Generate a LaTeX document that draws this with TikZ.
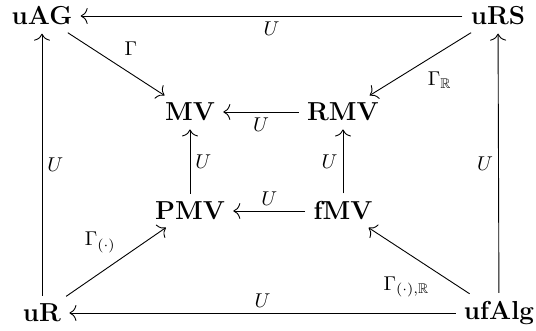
\documentclass[tikz,border=0pt]{standalone}
\usepackage{amssymb}
\usetikzlibrary{arrows.meta}
\begin{document}
\begin{tikzpicture}[x=1pt,y=1pt,font=\fontsize{13}{15}\selectfont\bfseries,
    obj/.style={inner sep=3pt},
    fun/.style={-{To[length=3.5pt,width=8pt]},line width=0.45pt,shorten >=1pt,shorten <=1pt},
    lbl/.style={font=\normalsize,inner sep=2.5pt}]
  \useasboundingbox (0,0) rectangle (268,165.5);
  \node[obj] (uAG) at (21,157.5) {uAG};
  \node[obj] (uRS) at (249,157.5) {uRS};
  \node[obj] (MV) at (95,109.5) {MV};
  \node[obj] (RMV) at (171.5,109.5) {RMV};
  \node[obj] (PMV) at (95,60) {PMV};
  \node[obj] (fMV) at (171.5,60) {fMV};
  \node[obj] (uR) at (21,9) {uR};
  \node[obj] (ufAlg) at (249.5,9) {ufAlg};
  \draw[fun] (uRS) -- node[lbl,auto]{$U$} (uAG);
  \draw[fun] (uAG) -- node[lbl,auto,pos=0.5,inner sep=4pt]{$\Gamma$} (MV);
  \draw[fun] (uRS) -- node[lbl,auto,pos=0.5,inner sep=3.5pt]{$\Gamma_{\mathbb{R}}$} (RMV);
  \draw[fun] (RMV) -- node[lbl,auto]{$U$} (MV);
  \draw[fun] (uR) -- node[lbl,auto,swap]{$U$} (uAG);
  \draw[fun] (PMV) -- node[lbl,auto,swap]{$U$} (MV);
  \draw[fun] (fMV) -- node[lbl,auto]{$U$} (RMV);
  \draw[fun] (ufAlg) -- node[lbl,auto]{$U$} (uRS);
  \draw[fun] (fMV) -- node[lbl,auto,swap]{$U$} (PMV);
  \draw[fun] (uR) -- node[lbl,auto,pos=0.55]{$\Gamma_{(\cdot)}$} (PMV);
  \draw[fun] (ufAlg) -- node[lbl,auto,pos=0.35]{$\Gamma_{(\cdot),\mathbb{R}}$} (fMV);
  \draw[fun] (ufAlg) -- node[lbl,auto,swap]{$U$} (uR);
\end{tikzpicture}
\end{document}
